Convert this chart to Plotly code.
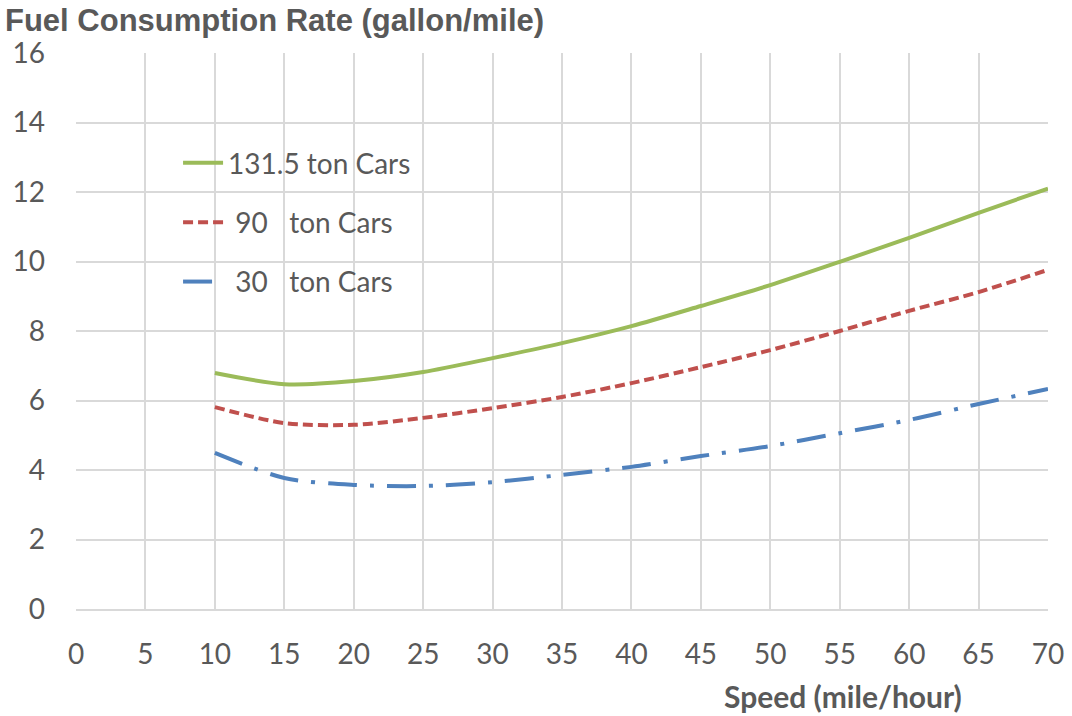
import plotly.graph_objects as go

speed = [10, 15, 20, 25, 30, 35, 40, 45, 50, 55, 60, 65, 70]
fuel_131 = [6.79, 6.47, 6.56, 6.82, 7.22, 7.65, 8.14, 8.72, 9.32, 9.99, 10.68, 11.40, 12.10]
fuel_90 = [5.81, 5.35, 5.30, 5.50, 5.78, 6.10, 6.50, 6.96, 7.45, 8.00, 8.58, 9.12, 9.76]
fuel_30 = [4.49, 3.77, 3.57, 3.54, 3.65, 3.86, 4.09, 4.40, 4.69, 5.06, 5.44, 5.90, 6.33]

names = ["131.5 ton Cars", "\u00a090\u00a0\u00a0\u00a0ton Cars", "\u00a030\u00a0\u00a0\u00a0ton Cars"]
colors = ["#9BBB59", "#C0504D", "#4F81BD"]
dashes = ["solid", "10px,5px", "29px,13px,4px,13px"]

fig = go.Figure()
for i, ys in enumerate([fuel_131, fuel_90, fuel_30]):
    fig.add_trace(go.Scatter(
        x=speed, y=ys, mode="lines", name=names[i], legendgroup=str(i),
        line=dict(color=colors[i], width=4, dash=dashes[i], shape="spline", smoothing=0.8),
    ))

gray = "#595959"
fig.update_layout(
    width=1072, height=716,
    margin=dict(l=76, r=24, t=53, b=107),
    paper_bgcolor="white", plot_bgcolor="white",
    showlegend=True,
    legend=dict(x=0.105, y=0.847, xanchor="left", yanchor="top",
                font=dict(family="Lato", size=28, color=gray),
                tracegroupgap=20, itemwidth=40, bgcolor="rgba(0,0,0,0)"),
    xaxis=dict(range=[0, 70], dtick=5, tick0=0, showgrid=True, gridcolor="#d9d9d9",
               gridwidth=1.5, zeroline=False, showline=True, linecolor="#d9d9d9", linewidth=1.5,
               ticks="", tickfont=dict(family="Lato", size=28, color=gray), ticklabelstandoff=20,
               automargin=False, ticklabeloverflow="allow"),
    yaxis=dict(range=[0, 16], dtick=2, tick0=0, showgrid=True, gridcolor="#d9d9d9",
               gridwidth=1.5, zeroline=False, showline=False,
               ticks="", tickfont=dict(family="Lato", size=28, color=gray), ticklabelstandoff=30,
               automargin=False, ticklabeloverflow="allow"),
    annotations=[
        dict(text="<b>Fuel Consumption Rate (gallon/mile)</b>", xref="paper", yref="paper",
             x=0, y=1.0, xanchor="left", yanchor="bottom", yshift=13, xshift=-73, showarrow=False,
             font=dict(family="Liberation Sans", size=31, color=gray)),
        dict(text="<b>Speed (mile/hour)</b>", xref="paper", yref="paper",
             x=0.789, y=0, xanchor="center", yanchor="top", yshift=-67, showarrow=False,
             font=dict(family="Lato", size=30, color=gray)),
    ],
)

fig.write_html("out.html", config={"displayModeBar": False},
               post_script="document.body.style.margin='0';")
